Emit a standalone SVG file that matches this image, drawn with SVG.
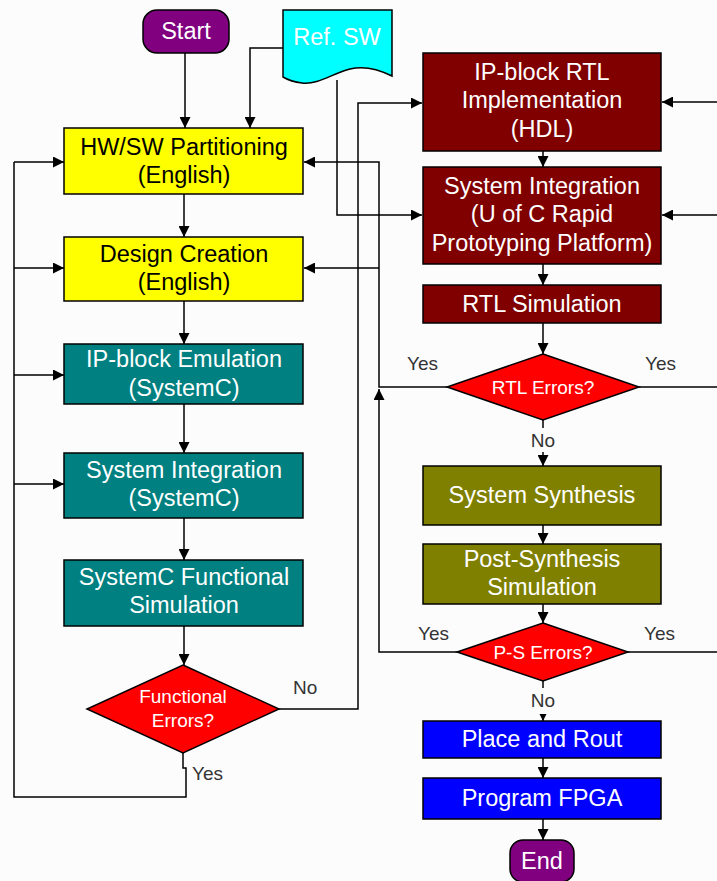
<svg xmlns="http://www.w3.org/2000/svg" width="717" height="881" viewBox="0 0 717 881">
<defs>
<marker id="ah" viewBox="0 0 10 10" refX="10" refY="5" markerWidth="11" markerHeight="11" markerUnits="userSpaceOnUse" orient="auto">
<path d="M0,0 L10,5 L0,10 Z" fill="#000"/>
</marker>
<style>
.box{stroke:#000;stroke-width:1.5}
.t{font-family:"Liberation Sans",Arial,sans-serif;font-size:23.5px;fill:#fff;text-anchor:middle}
.tk{fill:#000}
.d{font-family:"Liberation Sans",Arial,sans-serif;font-size:19px;fill:#fff;text-anchor:middle}
.lb{font-family:"Liberation Sans",Arial,sans-serif;font-size:19px;fill:#333}
.c{fill:none;stroke:#000;stroke-width:1.5}
.ca{fill:none;stroke:#000;stroke-width:1.5;marker-end:url(#ah)}
</style>
</defs>
<rect width="717" height="881" fill="#fcfcfc"/>

<g id="connectors">
<path class="ca" d="M185,53 V128"/>
<path class="ca" d="M283,48 H250 V128"/>
<path class="ca" d="M337,80 V215 H422"/>
<path class="ca" d="M184,194 V237"/>
<path class="ca" d="M184,301 V344"/>
<path class="ca" d="M184,404 V453"/>
<path class="ca" d="M184,518 V560"/>
<path class="ca" d="M184,626 V665"/>
<path class="c" d="M183,753 V768 H186 V797 H14 V162"/>
<path class="ca" d="M14,162 H64"/>
<path class="ca" d="M14,268 H64"/>
<path class="ca" d="M14,375 H64"/>
<path class="ca" d="M14,484 H64"/>
<path class="ca" d="M279,709 H358 V103 H422"/>
<path class="ca" d="M457,652 H379 V389"/>
<path class="ca" d="M447,387 H379 V162 H304"/>
<path class="ca" d="M379,268 H304"/>
<path class="ca" d="M717,102 H662"/>
<path class="ca" d="M717,215 H662"/>
<path class="c" d="M639,387 H717"/>
<path class="c" d="M628,652 H717"/>
<path class="ca" d="M543,151 V167"/>
<path class="ca" d="M543,264 V285"/>
<path class="ca" d="M543,323 V354"/>
<path class="ca" d="M543,420 V466"/>
<path class="ca" d="M543,525 V544"/>
<path class="ca" d="M543,604 V623"/>
<path class="ca" d="M543,681 V721"/>
<path class="ca" d="M543,758 V778"/>
<path class="ca" d="M543,819 V840"/>
<rect x="530" y="428" width="26" height="24" fill="#fcfcfc"/>
<rect x="530" y="688" width="26" height="26" fill="#fcfcfc"/>
<text class="lb" x="543" y="447" text-anchor="middle">No</text>
<text class="lb" x="543" y="707" text-anchor="middle">No</text>
<text class="lb" x="293" y="694">No</text>
<text class="lb" x="192" y="780">Yes</text>
<text class="lb" x="407" y="370">Yes</text>
<text class="lb" x="645" y="370">Yes</text>
<text class="lb" x="418" y="640">Yes</text>
<text class="lb" x="644" y="640">Yes</text>
</g>

<g id="start">
<rect class="box" x="143" y="10" width="86" height="43" rx="14" fill="#800080"/>
<text class="t" x="186" y="39">Start</text>
</g>

<g id="refsw">
<path class="box" d="M283,10 H392 V76 C380,70 366,65 350,69 C333,73 318,85 302,83 C293,82 288,80 283,77 Z" fill="#00ffff"/>
<text class="t" x="337" y="45">Ref. SW</text>
</g>

<g id="hwsw">
<rect class="box" x="64" y="128" width="239" height="66" fill="#ffff00"/>
<text class="t tk" x="184" y="155">HW/SW Partitioning</text>
<text class="t tk" x="184" y="183">(English)</text>
</g>

<g id="design">
<rect class="box" x="64" y="237" width="239" height="64" fill="#ffff00"/>
<text class="t tk" x="184" y="262">Design Creation</text>
<text class="t tk" x="184" y="290">(English)</text>
</g>

<g id="ipemu">
<rect class="box" x="64" y="344" width="239" height="60" fill="#008080"/>
<text class="t" x="184" y="367">IP-block Emulation</text>
<text class="t" x="184" y="396">(SystemC)</text>
</g>

<g id="sysint-sc">
<rect class="box" x="64" y="453" width="239" height="65" fill="#008080"/>
<text class="t" x="184" y="478">System Integration</text>
<text class="t" x="184" y="506">(SystemC)</text>
</g>

<g id="scfunc">
<rect class="box" x="64" y="560" width="239" height="66" fill="#008080"/>
<text class="t" x="184" y="585">SystemC Functional</text>
<text class="t" x="184" y="613">Simulation</text>
</g>

<g id="funcerr">
<path class="box" d="M183,665 L279,709 L183,753 L87,709 Z" fill="#ff0000" stroke-width="1.2"/>
<text class="d" x="183" y="703">Functional</text>
<text class="d" x="183" y="727">Errors?</text>
</g>

<g id="iprtl">
<rect class="box" x="423" y="53" width="238" height="98" fill="#800000"/>
<text class="t" x="542" y="80">IP-block RTL</text>
<text class="t" x="542" y="108">Implementation</text>
<text class="t" x="542" y="137">(HDL)</text>
</g>

<g id="sysint-uc">
<rect class="box" x="423" y="167" width="238" height="97" fill="#800000"/>
<text class="t" x="542" y="194">System Integration</text>
<text class="t" x="542" y="222">(U of C Rapid</text>
<text class="t" x="542" y="251">Prototyping Platform)</text>
</g>

<g id="rtlsim">
<rect class="box" x="423" y="285" width="238" height="38" fill="#800000"/>
<text class="t" x="542" y="312">RTL Simulation</text>
</g>

<g id="rtlerr">
<path class="box" d="M543,354 L639,387 L543,420 L447,387 Z" fill="#ff0000" stroke-width="1.2"/>
<text class="d" x="543" y="394">RTL Errors?</text>
</g>

<g id="synth">
<rect class="box" x="423" y="466" width="238" height="59" fill="#808000"/>
<text class="t" x="542" y="503">System Synthesis</text>
</g>

<g id="postsim">
<rect class="box" x="423" y="544" width="238" height="60" fill="#808000"/>
<text class="t" x="542" y="567">Post-Synthesis</text>
<text class="t" x="542" y="595">Simulation</text>
</g>

<g id="pserr">
<path class="box" d="M543,623 L628,652 L543,681 L457,652 Z" fill="#ff0000" stroke-width="1.2"/>
<text class="d" x="543" y="659">P-S Errors?</text>
</g>

<g id="pnr">
<rect class="box" x="423" y="721" width="238" height="37" fill="#0000ff"/>
<text class="t" x="542" y="747">Place and Rout</text>
</g>

<g id="fpga">
<rect class="box" x="423" y="778" width="238" height="41" fill="#0000ff"/>
<text class="t" x="542" y="806">Program FPGA</text>
</g>

<g id="end">
<rect class="box" x="510" y="840" width="64" height="42" rx="13" fill="#800080"/>
<text class="t" x="542" y="869">End</text>
</g>
</svg>
